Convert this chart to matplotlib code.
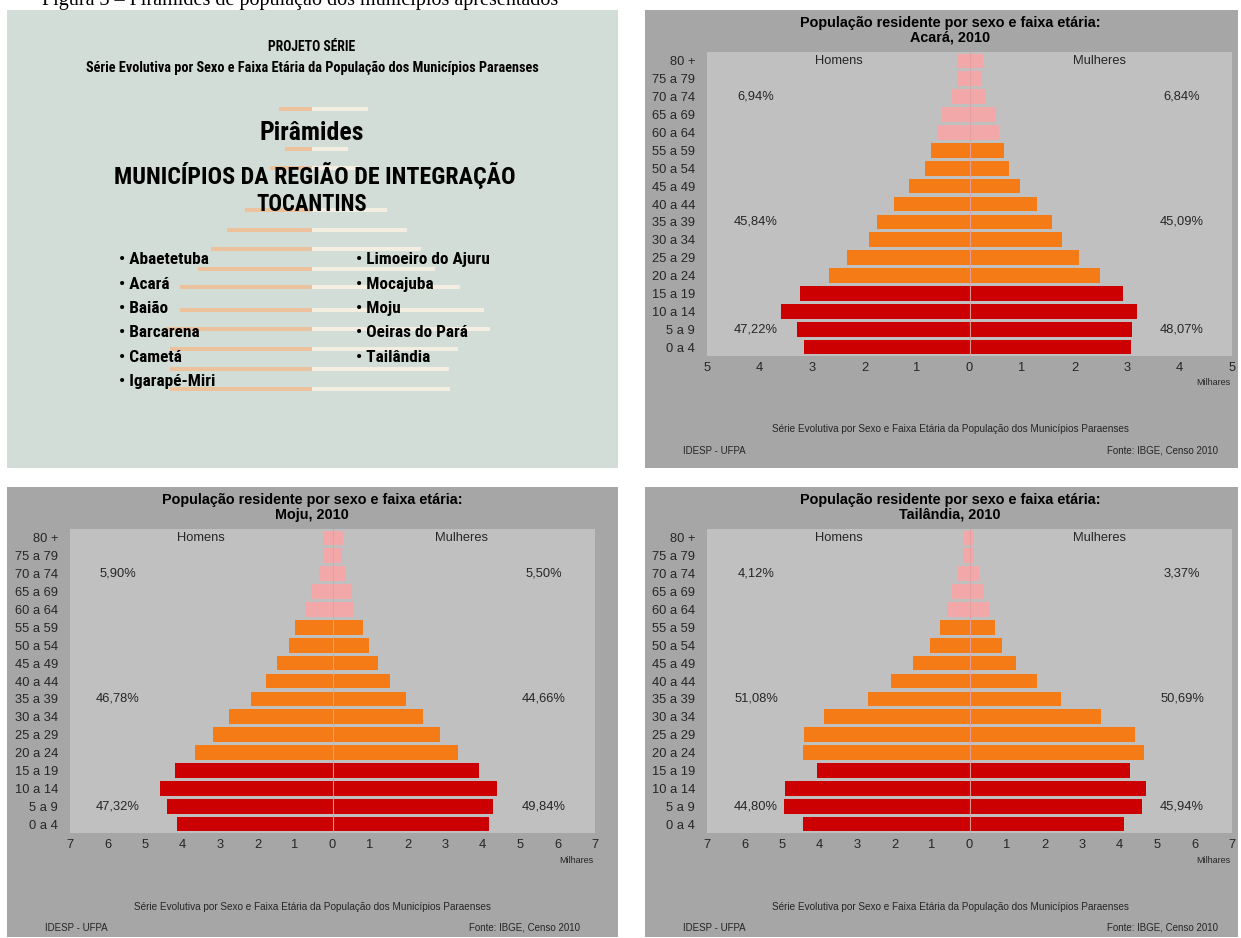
import os
import matplotlib
matplotlib.use("Agg")
import matplotlib.pyplot as plt
from matplotlib import font_manager
from matplotlib.font_manager import FontProperties
from matplotlib.patches import Rectangle

W, H = 1241, 938

# faixas etarias (de baixo para cima)
ages = ["0 a 4", "5 a 9", "10 a 14", "15 a 19", "20 a 24", "25 a 29", "30 a 34",
        "35 a 39", "40 a 44", "45 a 49", "50 a 54", "55 a 59", "60 a 64",
        "65 a 69", "70 a 74", "75 a 79", "80 +"]

# populacao em milhares
acara_homens = [3.15, 3.28, 3.60, 3.22, 2.67, 2.33, 1.92, 1.77, 1.43, 1.15, 0.84, 0.73,
                0.60, 0.52, 0.33, 0.24, 0.24]
acara_mulheres = [3.08, 3.09, 3.19, 2.93, 2.49, 2.09, 1.77, 1.58, 1.28, 0.96, 0.75, 0.66,
                  0.56, 0.51, 0.32, 0.21, 0.26]
acara_pct_h = ["47,22%", "45,84%", "6,94%"]
acara_pct_m = ["48,07%", "45,09%", "6,84%"]

moju_homens = [4.16, 4.42, 4.60, 4.21, 3.67, 3.18, 2.76, 2.18, 1.78, 1.47, 1.15, 0.99,
               0.73, 0.57, 0.37, 0.24, 0.25]
moju_mulheres = [4.16, 4.28, 4.39, 3.91, 3.35, 2.86, 2.40, 1.96, 1.52, 1.20, 0.97, 0.81,
                 0.58, 0.53, 0.35, 0.24, 0.27]
moju_pct_h = ["47,32%", "46,78%", "5,90%"]
moju_pct_m = ["49,84%", "44,66%", "5,50%"]

tail_homens = [4.45, 4.94, 4.92, 4.06, 4.43, 4.42, 3.89, 2.70, 2.10, 1.51, 1.05, 0.80,
               0.60, 0.46, 0.31, 0.18, 0.14]
tail_mulheres = [4.13, 4.61, 4.70, 4.27, 4.66, 4.40, 3.50, 2.43, 1.79, 1.25, 0.87, 0.69,
                 0.52, 0.39, 0.25, 0.13, 0.09]
tail_pct_h = ["44,80%", "51,08%", "4,12%"]
tail_pct_m = ["45,94%", "50,69%", "3,37%"]

pct_rows = [1, 7, 14]   # linhas onde ficam os percentuais

municipios_esq = ["Abaetetuba", "Acará", "Baião", "Barcarena", "Cametá", "Igarapé-Miri"]
municipios_dir = ["Limoeiro do Ajuru", "Mocajuba", "Moju", "Oeiras do Pará", "Tailândia"]

# faixas decorativas do slide (y, esquerda, direita) em px
listras = [(109, 279, 368), (149, 285, 348), (168, 270, 360), (210, 245, 387),
           (230, 227, 407), (249, 211, 421), (269, 198, 435), (287, 180, 460),
           (310, 180, 484), (329, 166, 490), (349, 170, 458), (369, 170, 449),
           (389, 170, 450)]

RED, ORANGE, PINK = "#cc0000", "#f57b16", "#f2a8a8"

# fonte condensada para o slide, se houver
prefer = ["robotocondensed-bold", "liberationsansnarrow-bold", "dejavusanscondensed-bold",
          "notosans-condensedbold", "opensans-condbold", "opensanscondensed-bold"]
files = {os.path.basename(f.fname).lower().split(".")[0]: f.fname
         for f in font_manager.fontManager.ttflist}
cond_file = None
for p in prefer:
    if p in files:
        cond_file = files[p]
        break


def slide_font(size):
    if cond_file:
        return FontProperties(fname=cond_file, size=size)
    return FontProperties(family="DejaVu Sans", weight="bold", size=size)


plt.rcParams["font.family"] = ["Liberation Sans", "DejaVu Sans"]

fig = plt.figure(figsize=(W / 100, H / 100), dpi=100)
fig.patch.set_facecolor("white")


def px_axes(x0, y0, x1, y1):
    return fig.add_axes([x0 / W, 1 - y1 / H, (x1 - x0) / W, (y1 - y0) / H])


# legenda cortada no topo
fig.text(42 / W, 1 - 4.5 / H, "Figura 3 – Pirâmides de população dos municípios apresentados",
         fontsize=14.5, family="Liberation Serif", va="baseline", ha="left")

# ---- slide de abertura ----
s = px_axes(7, 10, 618, 468)
s.set_xlim(7, 618)
s.set_ylim(468, 10)
s.set_facecolor("#d3ddd7")
s.set_xticks([])
s.set_yticks([])
for sp in s.spines.values():
    sp.set_visible(False)
for y, xl, xr in listras:
    s.add_patch(Rectangle((xl, y - 1.8), 312 - xl, 3.6, color="#ecc29c", lw=0))
    s.add_patch(Rectangle((312, y - 1.8), xr - 312, 3.6, color="#f4ede1", lw=0))

ajuste = []   # (texto, largura alvo em px)
t = s.text(312, 46.7, "PROJETO SÉRIE", fontproperties=slide_font(10), ha="center", va="center")
ajuste.append((t, 87))
t = s.text(312, 67.7, "Série Evolutiva por Sexo e Faixa Etária da População dos Municípios Paraenses",
           fontproperties=slide_font(9), ha="center", va="center")
ajuste.append((t, 455))
t = s.text(312, 132.7, "Pirâmides", fontproperties=slide_font(18), ha="center", va="center")
ajuste.append((t, 104))
t = s.text(315, 176, "MUNICÍPIOS DA REGIÃO DE INTEGRAÇÃO", fontproperties=slide_font(16),
           ha="center", va="center")
ajuste.append((t, 401))
t = s.text(312, 205, "TOCANTINS", fontproperties=slide_font(16), ha="center", va="center")
ajuste.append((t, 111))
bullets = []
for i, m in enumerate(municipios_esq):
    bullets.append(s.text(119, 260 + i * 24.3, "• " + m, fontproperties=slide_font(12),
                          ha="left", va="center"))
for i, m in enumerate(municipios_dir):
    bullets.append(s.text(356, 260 + i * 24.3, "• " + m, fontproperties=slide_font(12),
                          ha="left", va="center"))

renderer = fig.canvas.get_renderer()
for t, alvo in ajuste:
    w = t.get_window_extent(renderer).width
    t.set_fontsize(t.get_fontsize() * alvo / w)
w = bullets[6].get_window_extent(renderer).width   # "• Limoeiro do Ajuru"
tam = 12 * 134 / w
for b in bullets:
    b.set_fontsize(tam)


def piramide(panel, area, nome, homens, mulheres, xmax, pct_h, pct_m):
    px0, py0, px1, py1 = panel
    p = px_axes(*panel)
    p.set_xlim(0, px1 - px0)
    p.set_ylim(py1 - py0, 0)
    p.set_facecolor("#a6a6a6")
    p.set_xticks([])
    p.set_yticks([])
    for sp in p.spines.values():
        sp.set_visible(False)

    ax0, ay0, ax1, ay1 = area
    rx, ry = ax0 - px0, ay0 - py0
    rb = ay1 - py0
    row_h = (ay1 - ay0) / len(ages)
    p.add_patch(Rectangle((rx, ry), ax1 - ax0, ay1 - ay0, color="#c0c0c0", lw=0))

    ax = px_axes(*area)
    ax.set_facecolor("none")
    cores = [RED] * 4 + [ORANGE] * 8 + [PINK] * 5
    ypos = list(range(len(ages)))
    ax.barh(ypos, [-v for v in homens], height=0.82, color=cores, lw=0, zorder=2)
    ax.barh(ypos, mulheres, height=0.82, color=cores, lw=0, zorder=2)
    ax.axvline(0, color="#e0a0a0", lw=0.8, alpha=0.9, zorder=3)
    ax.set_xlim(-xmax, xmax)
    ax.set_ylim(-0.5, len(ages) - 0.5)
    ticks = list(range(-xmax, xmax + 1))
    ax.set_xticks(ticks, [str(abs(t)) for t in ticks])
    ax.set_yticks(ypos, ages)
    ax.tick_params(axis="x", length=0, pad=4, labelsize=9.3, colors="#262626")
    ax.tick_params(axis="y", length=0, pad=8.5, labelsize=9.3, colors="#262626")
    for sp in ax.spines.values():
        sp.set_visible(False)

    p.text(305, 13, "População residente por sexo e faixa etária:", weight="bold",
           fontsize=10.4, ha="center", va="center")
    p.text(305, 27.5, nome + ", 2010", weight="bold", fontsize=10.4, ha="center", va="center")
    p.text(194, ry + row_h / 2, "Homens", fontsize=9.3, ha="center", va="center", color="#262626")
    p.text(454, ry + row_h / 2, "Mulheres", fontsize=9.3, ha="center", va="center", color="#262626")
    for r, th, tm in zip(pct_rows, pct_h, pct_m):
        yy = ry + (len(ages) - 1 - r + 0.5) * row_h
        p.text(111, yy, th, fontsize=9.3, ha="center", va="center", color="#262626")
        p.text(537, yy, tm, fontsize=9.3, ha="center", va="center", color="#262626")
    p.text(ax1 - px0 - 2, rb + 27, "Milhares", fontsize=6.5, ha="right", va="center",
           color="#262626")
    p.text(305, 419.5, "Série Evolutiva por Sexo e Faixa Etária da População dos Municípios Paraenses",
           fontsize=7.2, ha="center", va="center", color="#262626")
    p.text(38, 440.5, "IDESP - UFPA", fontsize=7, ha="left", va="center", color="#262626")
    p.text(573, 440.5, "Fonte: IBGE, Censo 2010", fontsize=7, ha="right", va="center",
           color="#262626")


piramide((645, 10, 1238, 468), (707, 52, 1232, 356), "Acará",
         acara_homens, acara_mulheres, 5, acara_pct_h, acara_pct_m)
piramide((7, 487, 618, 937), (70, 529, 595, 833), "Moju",
         moju_homens, moju_mulheres, 7, moju_pct_h, moju_pct_m)
piramide((645, 487, 1238, 937), (707, 529, 1232, 833), "Tailândia",
         tail_homens, tail_mulheres, 7, tail_pct_h, tail_pct_m)

fig.savefig("out.png", dpi=100)
